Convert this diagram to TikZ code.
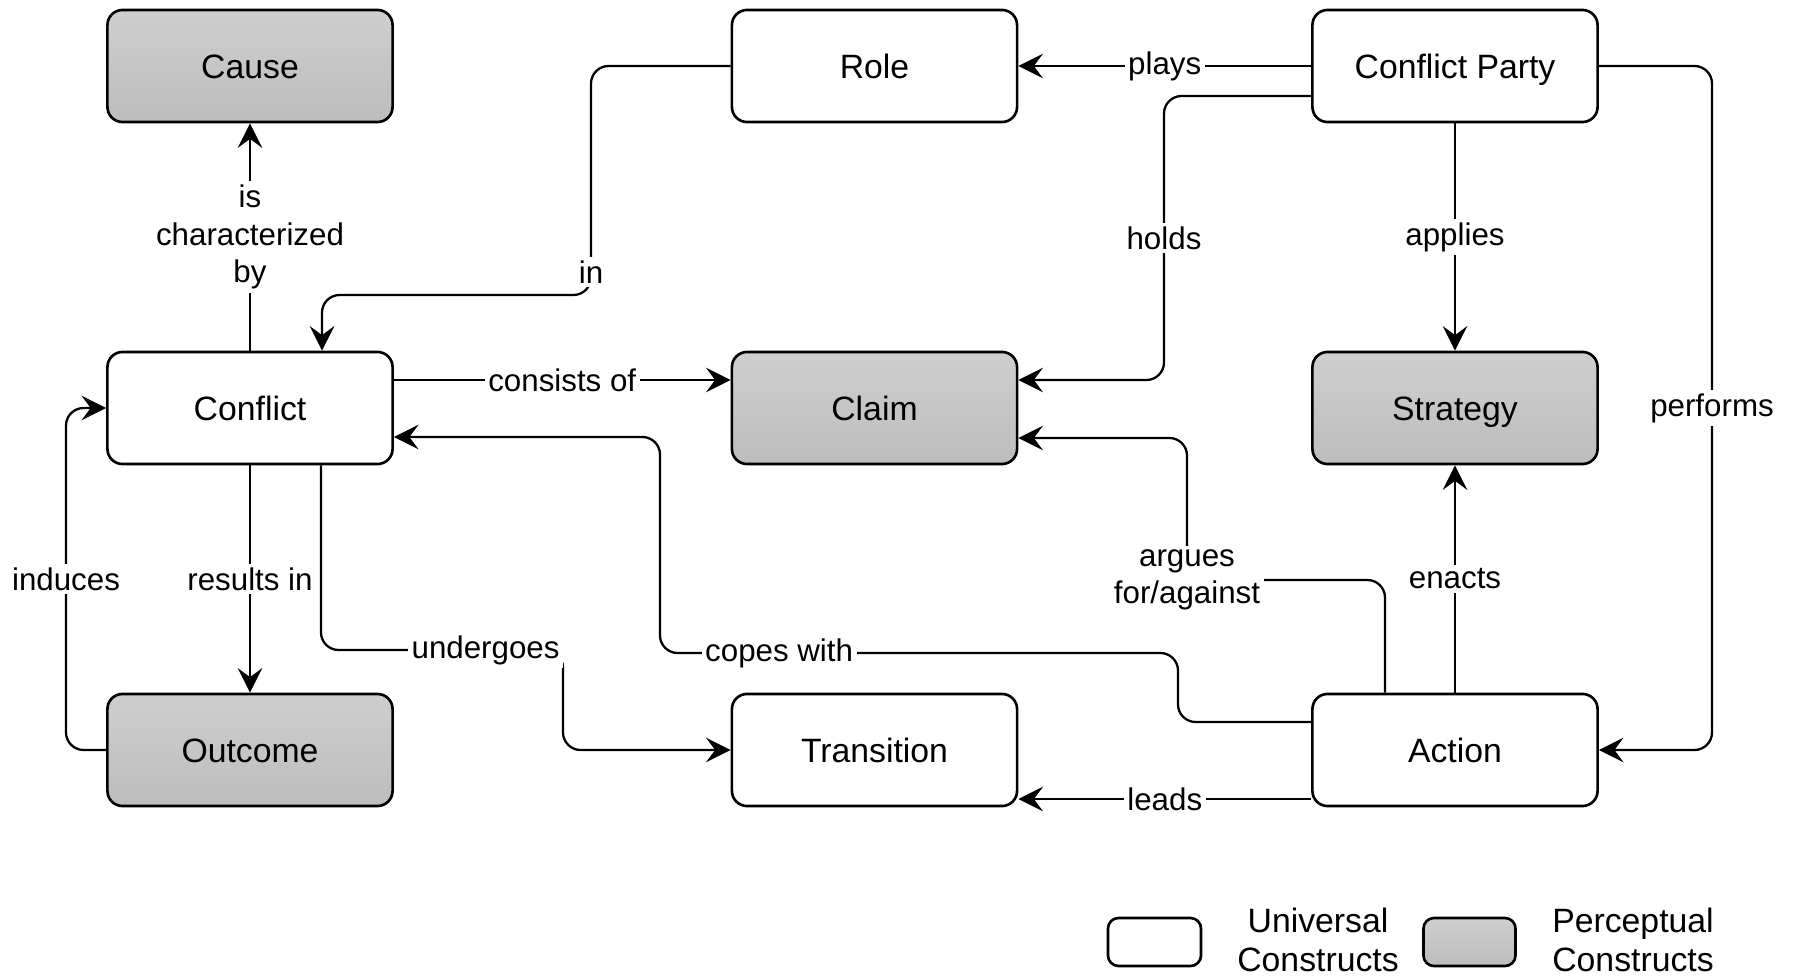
\documentclass[tikz,border=0pt]{standalone}
\usepackage{fontspec}
\setmainfont{Liberation Sans}
\usetikzlibrary{arrows.meta}
\begin{document}
\begin{tikzpicture}[x=0.01cm,y=-0.01cm,
  box/.style={draw,line width=0.75pt,rounded corners=4.3pt,minimum width=2.85cm,minimum height=1.12cm,inner sep=0pt,text height=6.9pt,text depth=0pt,font=\fontsize{9.6}{11.5}\selectfont,fill=white},
  pbox/.style={box,top color=gray!38,bottom color=gray!52},
  conn/.style={line width=0.65pt,rounded corners=5pt,-{Stealth[length=7pt,width=7pt,inset=2.6pt]}},
  lbl/.style={fill=white,inner sep=1pt,font=\fontsize{8.9}{10.7}\selectfont,align=center,rounded corners=0pt},
  leg/.style={font=\fontsize{9.6}{11.1}\selectfont,align=center,inner sep=0pt}]
\useasboundingbox (0,0) rectangle (1793,976);
% nodes
\node[pbox] (cause) at (250,66) {Cause};
\node[box] (role) at (874.5,66) {Role};
\node[box] (cp) at (1455,66) {Conflict Party};
\node[box] (conflict) at (250,408) {Conflict};
\node[pbox] (claim) at (874.5,408) {Claim};
\node[pbox] (strategy) at (1455,408) {Strategy};
\node[pbox] (outcome) at (250,750) {Outcome};
\node[box] (transition) at (874.5,750) {Transition};
\node[box] (action) at (1455,750) {Action};
% connectors
\draw[conn] (conflict.north) -- node[lbl]{is\\characterized\\by} (cause.south);
\draw[conn] (role.west) -- (591,66) -- node[lbl,pos=0.9]{in} (591,295) -- (322,295) -- ([xshift=0.72cm]conflict.north);
\draw[conn] (cp.west) -- node[lbl]{plays} (role.east);
\draw[conn] ([yshift=-0.30cm]cp.west) -- (1164,96) -- node[lbl]{holds} (1164,380) -- ([yshift=0.28cm]claim.east);
\draw[conn] (cp.south) -- node[lbl]{applies} (strategy.north);
\draw[conn] (cp.east) -- (1712,66) -- node[lbl]{performs} (1712,750) -- (action.east);
\draw[conn] ([yshift=0.28cm]conflict.east) -- node[lbl]{consists of} ([yshift=0.28cm]claim.west);
\draw[conn] ([yshift=0.28cm]action.west) -- (1178,722) -- (1178,653) -- node[lbl,pos=0.77]{copes with} (660,653) -- (660,437) -- ([yshift=-0.29cm]conflict.east);
\draw[conn] ([xshift=-0.70cm]action.north) -- (1385,580) -- (1187,580) node[lbl]{argues\\for/against} -- (1187,438) -- ([yshift=-0.30cm]claim.east);
\draw[conn] (action.north) -- node[lbl]{enacts} (strategy.south);
\draw[conn] ([yshift=-0.49cm]action.west) -- node[lbl]{leads} ([yshift=-0.49cm]transition.east);
\draw[conn] (conflict.south) -- node[lbl]{results in} (outcome.north);
\draw[conn] (outcome.west) -- (66,750) -- node[lbl]{induces} (66,408) -- (conflict.west);
\draw[conn] ([xshift=0.71cm]conflict.south) -- (321,650) -- node[lbl,pos=0.68]{undergoes} (563,650) -- (563,750) -- (transition.west);
% legend
\node[box,minimum width=0.93cm,minimum height=0.48cm,rounded corners=3pt] (legu) at (1154.5,942) {};
\node[leg] (legut) at (1318,940) {Universal\\Constructs};
\node[pbox,minimum width=0.92cm,minimum height=0.48cm,rounded corners=3pt] (legp) at (1469.5,942) {};
\node[leg] (legpt) at (1633,940) {Perceptual\\Constructs};
\end{tikzpicture}
\end{document}
